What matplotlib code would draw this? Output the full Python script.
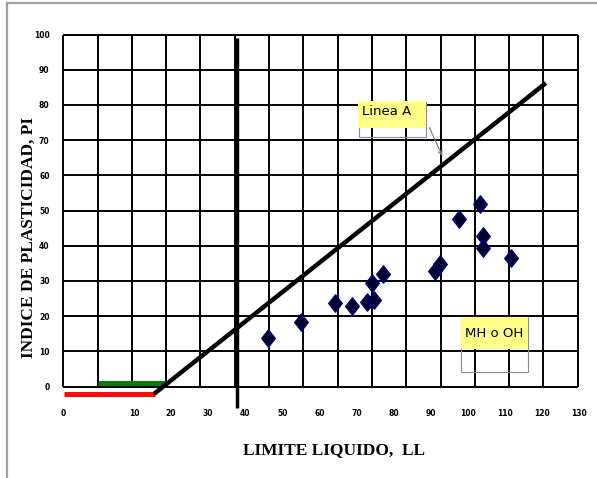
import numpy as np
import matplotlib
matplotlib.use("Agg")
import matplotlib.pyplot as plt
from matplotlib.patches import Rectangle
from matplotlib.path import Path
from matplotlib.lines import Line2D

# ---------------- data ----------------
ll_points = [46.2, 55.0, 64.2, 68.8, 72.8, 74.8, 74.2, 77.0, 91.1, 92.5,
             97.7, 103.3, 104.0, 104.0, 111.5]
pi_points = [13.7, 18.4, 23.6, 23.0, 24.1, 24.6, 29.3, 32.0, 32.9, 34.8,
             47.6, 51.8, 42.8, 39.3, 36.6]

aline_ll = [15.4, 121.0]
aline_pi = [-2.1, 86.2]
bline_ll = [37.7, 37.7]
bline_pi = [99.1, -6.1]
green_ll = [0.4, 18.9]
green_pi = [1.1, 1.1]
red_ll = [-8.9, 15.7]
red_pi = [-2.0, -2.0]

x_tick_values = list(range(10, 131, 10))
x_tick_labels = ["0"] + [str(v) for v in x_tick_values]
y_tick_values = list(range(0, 101, 10))
y_tick_labels = [str(v) for v in y_tick_values]

x_title = "LIMITE LIQUIDO,  LL"
y_title = "INDICE DE PLASTICIDAD, PI"
note_a = "Linea A"
note_mh = "MH o OH"

# ---------------- layout ----------------
W, H = 597, 478
X0, KX = 96.9, 3.71      # pixel of LL = 0, pixels per LL unit
Y0, KY = 386.5, 3.52     # pixel of PI = 0, pixels per PI unit
xlim = (-10.5, 132.4)
ylim = (-5.5, 101.0)
left_px = X0 + KX * xlim[0]
right_px = X0 + KX * xlim[1]
top_px = Y0 - KY * ylim[1]
bot_px = Y0 - KY * ylim[0]
aw = right_px - left_px
ah = bot_px - top_px

fig = plt.figure(figsize=(W / 100, H / 100), dpi=100)
fig.patch.set_facecolor("white")
ax = fig.add_axes([left_px / W, 1 - bot_px / H, aw / W, ah / H])
ax.set_xlim(xlim)
ax.set_ylim(ylim)
for s in ax.spines.values():
    s.set_visible(False)

# background grid (15 x 10 cells)
grid_x = np.linspace(-9.06, 129.6, 16)
grid_y = np.arange(0, 101, 10)
ax.vlines(grid_x, 0, 100, colors="black", lw=1.4, zorder=1)
ax.hlines(grid_y, grid_x[0], grid_x[-1], colors="black", lw=1.4, zorder=1)

# ticks
tick_font = dict(fontsize=5.5, fontweight="bold", family="DejaVu Sans")
ax.set_xticks([grid_x[0]] + x_tick_values, x_tick_labels, **tick_font)
ax.set_yticks(y_tick_values, y_tick_labels, **tick_font)
ax.tick_params(axis="x", length=0, pad=2.4)
ax.tick_params(axis="y", length=0, pad=6.0)

# lines
ax.plot(green_ll, green_pi, color="#0a7a0a", lw=3.6, solid_capstyle="butt", zorder=2)
ax.plot(red_ll, red_pi, color="#ff0a0a", lw=3.6, solid_capstyle="butt", zorder=2, clip_on=False)
ax.plot(aline_ll, aline_pi, color="black", lw=3.2, solid_capstyle="butt", zorder=3, clip_on=False)
ax.plot(bline_ll, bline_pi, color="black", lw=2.5, solid_capstyle="butt", zorder=3, clip_on=False)

# data points (Excel-like tall diamonds)
diamond = Path([(0, 1), (0.78, 0), (0, -1), (-0.78, 0), (0, 1)],
               [Path.MOVETO, Path.LINETO, Path.LINETO, Path.LINETO, Path.CLOSEPOLY])
ax.plot(ll_points, pi_points, linestyle="none", marker=diamond, ms=12.5,
        mfc="#00002a", mec="#000080", mew=1.0, zorder=5)

# callout "Linea A"
ax.add_patch(Rectangle((70.6, 70.8), 88.7 - 70.6, 80.8 - 70.8, fill=False,
                       ec="#8c8c8c", lw=0.8, zorder=6))
ax.add_patch(Rectangle((70.5, 73.4), 88.6 - 70.5, 81.0 - 73.4, fc="#ffff88",
                       ec="none", zorder=7))
ax.text(71.5, 78.1, note_a, fontsize=9.5, family="DejaVu Sans", ha="left",
        va="center", zorder=8)
ax.annotate("", xy=(93.4, 64.8), xytext=(89.3, 74.3),
            arrowprops=dict(arrowstyle="->", color="#7a7a7a", lw=0.8,
                            mutation_scale=7), zorder=8)

# callout "MH o OH"
ax.add_patch(Rectangle((98.1, 4.2), 116.1 - 98.1, 19.8 - 4.2, fill=False,
                       ec="#8c8c8c", lw=0.8, zorder=6))
ax.add_patch(Rectangle((98.1, 10.6), 116.1 - 98.1, 19.8 - 10.6, fc="#ffff88",
                       ec="none", zorder=7))
ax.text(107.0, 15.1, note_mh, fontsize=9.5, family="DejaVu Sans", ha="center",
        va="center", zorder=8)

# axis titles
title_font = dict(fontsize=12.5, fontweight="bold", family="Liberation Serif")
ax.set_xlabel(x_title, **title_font)
ax.xaxis.set_label_coords((334 - left_px) / aw, (bot_px - 442) / ah)
ax.set_ylabel(y_title, **title_font)
ax.yaxis.set_label_coords((37 - left_px) / aw, (bot_px - 237.5) / ah)

# outer frame (top and left edges visible)
fc = "#a0a0a0"
fig.add_artist(Line2D([6.7 / W, 6.7 / W], [0, 1 - 2.7 / H], color=fc, lw=1.6))
fig.add_artist(Line2D([6.7 / W, 1], [1 - 2.7 / H, 1 - 2.7 / H], color=fc, lw=1.6))

fig.savefig("out.png", dpi=100)
